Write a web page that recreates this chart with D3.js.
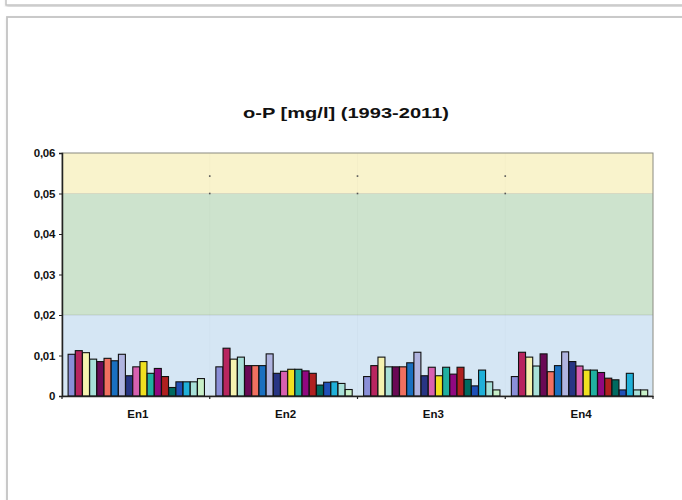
<!DOCTYPE html>
<html><head><meta charset="utf-8">
<script src="https://cdn.jsdelivr.net/npm/d3@7"></script>
<style>html,body{margin:0;padding:0;background:#fff;}svg{display:block;}</style>
</head><body>
<svg id="c" width="682" height="500"></svg>
<script>
const title = "o-P [mg/l] (1993-2011)";
const categories = ["En1", "En2", "En3", "En4"];
const years = ["1993","1994","1995","1996","1997","1998","1999","2000","2001","2002","2003","2004","2005","2006","2007","2008","2009","2010","2011"];
const valuesEn1 = [0.0103,0.0112,0.0107,0.0091,0.0085,0.0093,0.0087,0.0103,0.0050,0.0072,0.0085,0.0056,0.0068,0.0048,0.0021,0.0035,0.0035,0.0035,0.0043];
const valuesEn2 = [0.0072,0.0118,0.0091,0.0096,0.0075,0.0075,0.0075,0.0104,0.0056,0.0061,0.0066,0.0066,0.0062,0.0056,0.0027,0.0034,0.0035,0.0031,0.0016];
const valuesEn3 = [0.0048,0.0075,0.0096,0.0072,0.0072,0.0072,0.0082,0.0108,0.0050,0.0071,0.0050,0.0071,0.0054,0.0071,0.0041,0.0025,0.0064,0.0035,0.0015];
const valuesEn4 = [0.0048,0.0108,0.0096,0.0074,0.0104,0.0060,0.0075,0.0109,0.0085,0.0074,0.0064,0.0064,0.0058,0.0044,0.0040,0.0015,0.0056,0.0015,0.0015];
const seriesColors = ["#8a8fd8","#b8255f","#f6f3b0","#a8e0d8","#6a0a55","#f07060","#1a70c0","#b0b4e0","#283584","#d860b0","#f0e020","#20b0a0","#900880","#b02020","#006a60","#2050b8","#20b0d8","#a8e0d8","#c8f0c8"];
const yTicks = [0,0.01,0.02,0.03,0.04,0.05,0.06];
const yTickLabels = ["0","0,01","0,02","0,03","0,04","0,05","0,06"];
const bands = [{from:0,to:0.02,color:"#d5e6f4"},{from:0.02,to:0.05,color:"#cde3cd"},{from:0.05,to:0.06,color:"#f9f3cc"}];

const data = categories.map((c,i)=>({cat:c, vals:[valuesEn1,valuesEn2,valuesEn3,valuesEn4][i]}));

const svg = d3.select("#c");
const font = "'Liberation Sans', Arial, sans-serif";

// panel frames
const defs = svg.append("defs");
const f = defs.append("filter").attr("id","sh").attr("x","-5%").attr("y","-5%").attr("width","110%").attr("height","110%");
f.append("feDropShadow").attr("dx",1).attr("dy",2).attr("stdDeviation",1.5).attr("flood-color","#000").attr("flood-opacity",0.18);
svg.append("rect").attr("x",6).attr("y",-20).attr("width",700).attr("height",25).attr("fill","#fff").attr("stroke","#c4c4c4").attr("stroke-width",1.5).attr("filter","url(#sh)");
svg.append("rect").attr("x",7).attr("y",17).attr("width",700).attr("height",520).attr("fill","#fff").attr("stroke","#c4c4c4").attr("stroke-width",1.8).attr("filter","url(#sh)");

const L=62, R=653, T=153, B=396;
const x0 = d3.scaleBand().domain(categories).range([L,R]).padding(0);
const x1 = d3.scaleBand().domain(years).range([0,x0.bandwidth()]).paddingInner(0).paddingOuter(0.78);
const y = d3.scaleLinear().domain([0,0.06]).range([B,T]);

// bands
svg.append("g").selectAll("rect").data(bands).join("rect")
  .attr("x",L).attr("width",R-L)
  .attr("y",d=>y(d.to)).attr("height",d=>y(d.from)-y(d.to))
  .attr("fill",d=>d.color);
svg.append("g").selectAll("line").data([0.02,0.05]).join("line")
  .attr("x1",L).attr("x2",R).attr("y1",d=>y(d)).attr("y2",d=>y(d))
  .attr("stroke","#000").attr("stroke-opacity",0.1);
// faint vertical gridlines at category boundaries
const bounds = categories.slice(1).map(c=>x0(c));
svg.append("g").selectAll("line").data(bounds).join("line")
  .attr("x1",d=>d).attr("x2",d=>d).attr("y1",T).attr("y2",B)
  .attr("stroke","#000").attr("stroke-opacity",0.02);
svg.append("g").selectAll("circle").data(bounds.flatMap(b=>[[b,0.0543],[b,0.05]])).join("rect")
  .attr("x",d=>d[0]-0.8).attr("y",d=>y(d[1])-0.8).attr("width",1.6).attr("height",1.6)
  .attr("fill","#555");

// plot border
svg.append("rect").attr("x",L).attr("y",T).attr("width",R-L).attr("height",B-T)
  .attr("fill","none").attr("stroke","#8a8a80").attr("stroke-width",1);

// bars
const g = svg.append("g").selectAll("g").data(data).join("g")
  .attr("transform",d=>`translate(${x0(d.cat)},0)`);
g.selectAll("rect").data(d=>d.vals.map((v,i)=>({v,i}))).join("rect")
  .attr("x",d=>x1(years[d.i])+0.5)
  .attr("width",x1.bandwidth()-0.2)
  .attr("y",d=>y(d.v))
  .attr("height",d=>B-y(d.v))
  .attr("fill",d=>seriesColors[d.i])
  .attr("stroke","#111").attr("stroke-width",1.1);

// axes
const yAxis = d3.axisLeft(y).tickValues(yTicks).tickFormat((d,i)=>yTickLabels[i]).tickSize(3).tickPadding(4);
const ya = svg.append("g").attr("transform",`translate(${L},0)`).call(yAxis);
ya.select(".domain").attr("stroke","#222").attr("stroke-width",1.5);
ya.selectAll(".tick line").attr("stroke","#222");
ya.selectAll("text").attr("font-family",font).attr("font-weight","bold").attr("font-size",11.5).attr("fill","#111").attr("letter-spacing",-0.3);

const xAxis = d3.axisBottom(x0).tickSize(0).tickPadding(14);
const xa = svg.append("g").attr("transform",`translate(0,${B})`).call(xAxis);
xa.select(".domain").attr("stroke","#222").attr("stroke-width",1.5);
xa.selectAll("text").attr("font-family",font).attr("font-weight","bold").attr("font-size",11.5).attr("fill","#111").attr("dx",2);
svg.append("g").selectAll("line").data([L,...bounds,R]).join("line")
  .attr("x1",d=>d).attr("x2",d=>d).attr("y1",B).attr("y2",B+3).attr("stroke","#222").attr("stroke-width",1.2);

// title
svg.append("text").attr("x",346).attr("y",118).attr("text-anchor","middle")
  .attr("font-family",font).attr("font-weight","bold").attr("font-size",15).attr("fill","#111")
  .attr("textLength",206).attr("lengthAdjust","spacingAndGlyphs")
  .text(title);
</script>
</body></html>
